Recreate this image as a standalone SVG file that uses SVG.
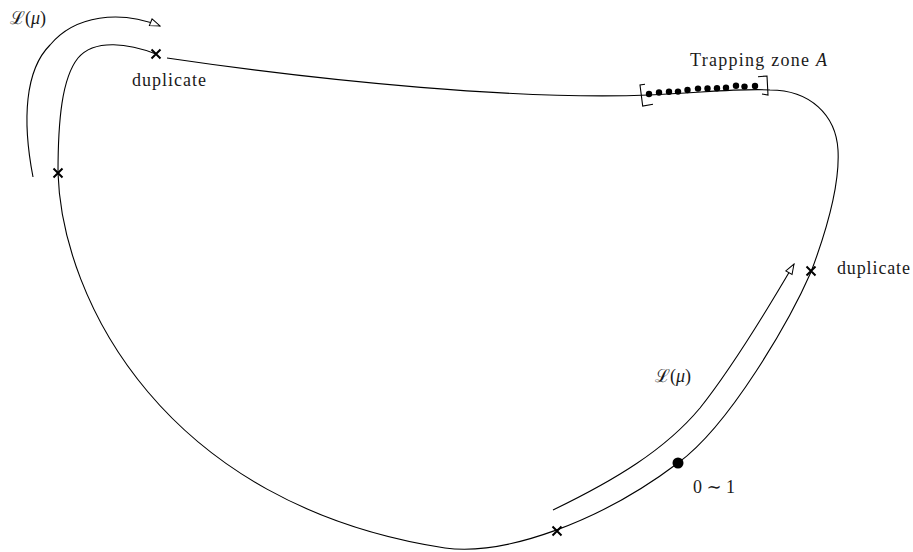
<svg xmlns="http://www.w3.org/2000/svg" width="913" height="552" viewBox="0 0 913 552">
<style>
.curve{fill:none;stroke:#000;stroke-width:1.1}
.cross{fill:none;stroke:#000;stroke-width:2}
.lbl{font-family:"Liberation Serif","DejaVu Serif",serif;font-size:18px;fill:#1a1a1a}
.brk{fill:none;stroke:#000;stroke-width:1.1}
</style>
<defs>
<marker id="open" markerUnits="userSpaceOnUse" viewBox="-1 -5 12 10" markerWidth="12" markerHeight="10" refX="10" refY="0" orient="auto">
<path d="M0,-3.6 L10,0 L0,3.6 Z" fill="#fff" stroke="#000" stroke-width="1"/>
</marker>
<path id="x" d="M-4.5,-4.5 L4.5,4.5 M-4.5,4.5 L4.5,-4.5"/>
</defs>
<rect width="913" height="552" fill="#fff"/>
<g id="connectors">
<path id="loop" class="curve" d="M156,54 C130,44 95,38 78,58 C62,78 58,120 58,173 C62,300 165,505 445,548 C505,556 600,522 678,463 C730,425 790,320 811,272 C826,232 840,185 838,150 C836,115 810,90 770,90 C740,88 700,93 649,95 C520,100 330,82 167,58"/>
<path id="arrow-top" class="curve" d="M33,177 C22,120 25,70 50,45 C75,15 120,10 160,26" marker-end="url(#open)"/>
<path id="arrow-bottom" class="curve" d="M553,510 C615,480 665,450 700,408 C735,364 770,305 794,264" marker-end="url(#open)"/>
</g>
<g id="trapping-zone">
<path class="brk" d="M645,84.3 L640,85 L642.7,106 L653,104.3"/>
<path class="brk" d="M758,76.7 L767,76 L768,95 L762,94"/>
<g fill="#000">
<circle cx="649" cy="94" r="3.2"/>
<circle cx="659" cy="92.5" r="3.2"/>
<circle cx="669" cy="91.8" r="3.2"/>
<circle cx="678" cy="91.6" r="3.2"/>
<circle cx="687.5" cy="90" r="3.2"/>
<circle cx="698" cy="88.6" r="3.2"/>
<circle cx="707.5" cy="88.4" r="3.2"/>
<circle cx="717" cy="88.3" r="3.2"/>
<circle cx="726" cy="87.8" r="3.2"/>
<circle cx="736" cy="85.8" r="3.2"/>
<circle cx="744.5" cy="86.6" r="3.2"/>
<circle cx="755" cy="86" r="3.2"/>
</g>
<text class="lbl" x="690" y="66" textLength="137" lengthAdjust="spacing">Trapping zone <tspan font-style="italic">A</tspan></text>
</g>
<g id="dup-top">
<use href="#x" class="cross" x="156" y="54"/>
<text class="lbl" x="132" y="86" textLength="74" lengthAdjust="spacing">duplicate</text>
</g>
<g id="cross-left">
<use href="#x" class="cross" x="58" y="173"/>
</g>
<g id="dup-right">
<use href="#x" class="cross" x="811" y="271"/>
<text class="lbl" x="837" y="274" textLength="73" lengthAdjust="spacing">duplicate</text>
</g>
<g id="cross-bottom">
<use href="#x" class="cross" x="557" y="531"/>
</g>
<g id="point-zero">
<circle cx="678" cy="463" r="5.5" fill="#000"/>
<text class="lbl" x="693" y="493" textLength="42" lengthAdjust="spacing">0 ∼ 1</text>
</g>
<g id="label-L-top">
<text class="lbl" x="10" y="24">ℒ(<tspan font-style="italic">μ</tspan>)</text>
</g>
<g id="label-L-bottom">
<text class="lbl" x="655" y="382">ℒ(<tspan font-style="italic">μ</tspan>)</text>
</g>
</svg>
